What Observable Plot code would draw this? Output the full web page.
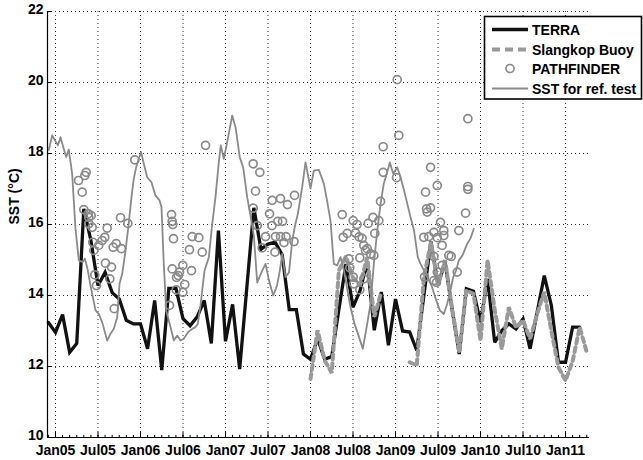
<!DOCTYPE html>
<html><head><meta charset="utf-8">
<script src="https://cdn.jsdelivr.net/npm/d3@7"></script>
<script src="https://cdn.jsdelivr.net/npm/@observablehq/plot@0.6"></script>
<style>
body{margin:0;background:#fff;}
#wrap{position:relative;width:643px;height:460px;font-family:"Liberation Sans",Arial,sans-serif;}
#legend{position:absolute;left:0;top:0;pointer-events:none;}
</style></head><body><div id="wrap"></div>
<script>
const tickValues = [2005, 2005.5, 2006, 2006.5, 2007, 2007.5, 2008, 2008.5, 2009, 2009.5, 2010, 2010.5, 2011];
const tickLabels = ["Jan05","Jul05","Jan06","Jul06","Jan07","Jul07","Jan08","Jul08","Jan09","Jul09","Jan10","Jul10","Jan11"];
const yTicks = [10, 12, 14, 16, 18, 20, 22];
const xDomain = [2004.906, 2011.282];
const yDomain = [10, 22];

const terraMonths = ["2004-12","2005-01","2005-02","2005-03","2005-04","2005-05","2005-06","2005-07","2005-08","2005-09","2005-10","2005-11","2005-12",
"2006-01","2006-02","2006-03","2006-04","2006-05","2006-06","2006-07","2006-08","2006-09","2006-10","2006-11","2006-12",
"2007-01","2007-02","2007-03","2007-04","2007-05","2007-06","2007-07","2007-08","2007-09","2007-10","2007-11","2007-12",
"2008-01","2008-02","2008-03","2008-04","2008-05","2008-06","2008-07","2008-08","2008-09","2008-10","2008-11","2008-12",
"2009-01","2009-02","2009-03","2009-04","2009-05","2009-06","2009-07","2009-08","2009-09","2009-10","2009-11","2009-12",
"2010-01","2010-02","2010-03","2010-04","2010-05","2010-06","2010-07","2010-08","2010-09","2010-10","2010-11","2010-12",
"2011-01","2011-02","2011-03"];
const terraValues = [13.24,12.96,13.46,12.40,12.65,16.44,15.55,14.28,14.65,14.08,13.90,13.30,13.20,
13.20,12.50,13.86,11.90,14.20,14.20,13.35,13.15,13.40,13.86,12.65,15.83,
12.71,13.75,11.93,14.20,16.47,15.30,15.45,15.50,15.15,13.60,13.60,12.35,
12.20,12.78,12.20,12.28,13.60,14.89,13.67,14.14,14.95,13.02,14.10,12.60,
13.90,13.00,12.97,12.45,14.00,15.52,14.30,14.94,13.60,12.35,14.19,14.12,
13.25,14.47,12.68,13.01,13.20,13.06,13.34,12.50,13.53,14.56,13.72,12.12,
12.12,13.11,13.11];

const buoyMonths = ["2008-01","2008-02","2008-03","2008-04","2008-05","2008-06","2008-07","2008-08","2008-09","2008-10","2008-11","2008-12",
"2009-01","2009-02","2009-03","2009-04","2009-05","2009-06","2009-07","2009-08","2009-09","2009-10","2009-11","2009-12",
"2010-01","2010-02","2010-03","2010-04","2010-05","2010-06","2010-07","2010-08","2010-09","2010-10","2010-11","2010-12",
"2011-01","2011-02","2011-03","2011-04"];
const buoyValues = [11.65,13.02,12.17,11.82,14.70,15.10,14.50,14.30,15.08,13.40,14.10,NaN,
NaN,NaN,12.12,12.03,14.50,15.50,14.30,15.00,13.60,12.40,14.14,14.05,
12.73,14.99,13.60,12.50,13.67,13.10,13.30,12.78,13.48,14.10,13.00,11.98,
11.60,12.15,13.11,12.40];

const pathYears = [2005.271,2005.314,2005.345,2005.361,2005.333,2005.385,2005.392,2005.420,2005.392,2005.432,2005.439,2005.451,2005.509,2005.549,2005.580,2005.608,2005.462,2005.482,2005.588,2005.659,2005.639,2005.691,2005.679,2005.714,2005.776,2005.765,2005.851,2005.933,
2006.365,2006.373,2006.380,2006.388,2006.341,2006.608,2006.576,2006.600,2006.498,2006.459,2006.444,2006.521,2006.498,2006.420,2006.373,2006.686,2006.726,2006.765,2006.424,
2007.326,2007.404,2007.353,2007.326,2007.373,2007.432,2007.471,2007.549,2007.647,2007.729,2007.812,2007.518,2007.547,2007.615,2007.671,2007.588,2007.647,2007.712,2007.688,2007.806,2007.582,
2008.373,2008.385,2008.432,2008.502,2008.547,2008.529,2008.571,2008.608,2008.627,2008.667,2008.679,2008.735,2008.756,2008.804,2008.824,2008.855,2008.855,2008.647,2008.706,2008.745,2008.451,2008.580,2008.502,2008.509,2008.580,2008.627,2008.462,
2009.020,2009.039,2009.012,2009.353,2009.412,2009.491,2009.365,2009.373,2009.333,2009.392,2009.529,2009.568,2009.491,2009.549,2009.627,2009.451,2009.549,2009.341,2009.482,2009.745,2009.824,2009.851,2009.726,2009.451,2009.568,2009.655,2009.412,2009.491,2009.451,2009.851,2009.851];
const pathValues = [17.24,16.91,17.38,17.47,16.42,16.30,16.20,16.25,16.02,15.92,15.50,15.27,15.41,15.55,15.64,15.90,14.58,14.28,14.91,14.80,14.47,13.63,15.36,15.46,15.32,16.19,16.03,17.82,
16.28,16.09,16.00,15.60,13.72,15.66,15.29,14.70,14.85,14.66,14.56,14.31,14.09,14.16,14.75,15.63,15.22,18.23,14.51,
17.71,17.47,16.94,16.46,15.97,15.34,15.66,16.68,16.73,16.56,16.82,16.30,15.97,16.09,16.09,15.66,15.66,15.66,15.49,15.52,15.22,
16.28,15.64,15.75,16.11,16.00,15.76,15.65,15.61,15.41,15.32,16.03,16.20,15.75,16.11,16.65,18.19,17.47,15.27,15.17,15.13,15.03,15.06,14.52,14.33,14.16,14.47,14.78,
20.08,18.51,17.32,16.91,17.61,17.10,16.44,16.35,15.64,15.66,16.06,15.83,15.63,15.41,15.13,15.10,14.85,14.52,14.37,15.83,16.32,16.99,14.66,15.78,15.69,15.10,16.47,14.66,14.42,18.98,17.07];

const refYears = [2004.921,2004.961,2005.006,2005.029,2005.059,2005.098,2005.126,2005.156,2005.196,2005.235,
2005.274,2005.321,2005.345,2005.376,2005.412,2005.471,2005.509,2005.549,2005.608,2005.647,
2005.686,2005.726,2005.753,2005.785,2005.824,2005.859,2005.894,2005.921,2005.949,2005.980,
2006.008,2006.039,2006.079,2006.129,2006.176,2006.224,2006.247,2006.274,2006.302,2006.353,
2006.392,2006.432,2006.471,2006.509,2006.561,2006.608,2006.647,2006.674,2006.706,2006.753,
2006.804,2006.844,2006.882,2006.921,2006.945,2006.980,2007.027,2007.079,2007.118,2007.168,
2007.208,2007.255,2007.294,2007.333,2007.373,2007.432,2007.471,2007.512,2007.561,2007.606,
2007.639,2007.667,2007.706,2007.747,2007.785,2007.818,2007.851,2007.902,2007.941,2007.971,
2008.000,2008.039,2008.098,2008.157,2008.194,2008.235,2008.274,2008.314,2008.353,2008.394,
2008.435,2008.471,2008.518,2008.565,2008.615,2008.667,2008.706,2008.745,2008.782,2008.824,
2008.862,2008.902,2008.933,2008.973,2009.020,2009.053,2009.091,2009.129,2009.176,2009.218,
2009.262,2009.294,2009.335,2009.373,2009.424,2009.471,2009.521,2009.568,2009.608,2009.641,
2009.679,2009.712,2009.745,2009.788,2009.844,2009.882,2009.921];
const refValues = [18.10,18.51,18.32,18.23,18.46,18.13,17.90,18.11,17.43,15.89,
14.99,14.94,15.04,14.76,14.28,13.58,13.48,13.25,12.73,12.92,
13.06,13.39,14.33,14.61,15.27,15.97,16.77,17.29,17.61,17.85,
18.04,17.71,17.33,17.19,16.82,16.68,16.49,14.89,13.58,13.11,
12.73,12.87,12.73,12.78,12.97,13.06,13.11,13.20,13.72,14.70,
15.08,16.02,16.77,17.75,18.23,17.85,18.41,19.07,18.74,17.89,
17.61,16.77,16.25,15.69,14.37,14.70,14.89,14.42,14.00,14.28,
14.70,15.17,14.52,14.65,15.55,15.97,16.30,17.05,17.75,17.38,
17.01,17.52,17.54,17.15,16.68,16.11,14.89,14.85,15.08,14.70,
14.14,13.67,13.20,12.87,12.50,13.20,13.77,14.89,15.75,16.58,
17.15,17.47,17.75,17.43,17.61,17.38,17.05,16.68,16.21,15.83,
15.08,14.89,14.70,14.52,14.28,13.92,13.58,13.48,13.77,14.08,
14.52,14.70,14.99,15.13,15.46,15.61,15.88];

const legendLabels = ["TERRA", "Slangkop Buoy", "PATHFINDER", "SST for ref. test"];
const yLabel = "SST (°C)";

const monthToYear = s => +s.slice(0, 4) + (+s.slice(5, 7) - 1) / 12;
const terra = terraMonths.map((m, i) => ({x: monthToYear(m), y: terraValues[i]}));
const buoy = buoyMonths.map((m, i) => ({x: monthToYear(m), y: buoyValues[i]}));
const path = pathYears.map((t, i) => ({x: t, y: pathValues[i]}));
const ref = refYears.map((t, i) => ({x: t, y: refValues[i]}));
// monthly minor tick positions along the bottom axis
const minorTicks = d3.range(2004 * 12 + 11, 2011 * 12 + 4).map(k => k / 12);

const BLACK = "#111", GRAY = "#8a8a8a", DGRAY = "#9a9a9a";
const font = '"Liberation Sans", Arial, sans-serif';

const chart = Plot.plot({
  width: 643, height: 460,
  marginLeft: 47, marginRight: 54, marginTop: 11, marginBottom: 23,
  style: {fontFamily: font, fontSize: "14px", fontWeight: "bold", background: "#fff", color: "#000"},
  x: {domain: xDomain, label: null},
  y: {domain: yDomain, label: null},
  marks: [
    Plot.gridY(yTicks.filter(v => v > 10), {stroke: "#333", strokeOpacity: 1, strokeWidth: 1, strokeDasharray: "1,3"}),
    Plot.gridX(tickValues, {stroke: "#333", strokeOpacity: 1, strokeWidth: 1, strokeDasharray: "1,3"}),
    Plot.line(terra, {x: "x", y: "y", stroke: BLACK, strokeWidth: 3.3, strokeLinejoin: "miter", strokeMiterlimit: 3}),
    Plot.line(buoy, {x: "x", y: "y", stroke: DGRAY, strokeWidth: 4, strokeDasharray: "5,4", strokeLinejoin: "miter"}),
    Plot.dot(path, {x: "x", y: "y", r: 4, stroke: GRAY, strokeWidth: 1.7, fill: "none"}),
    Plot.line(ref, {x: "x", y: "y", stroke: GRAY, strokeWidth: 1.8}),
    Plot.ruleX([xDomain[0]], {stroke: "#000", strokeWidth: 1.2}),
    Plot.ruleY([yDomain[0]], {stroke: "#000", strokeWidth: 1.2}),
    Plot.ruleX(minorTicks, {y1: yDomain[0], y2: yDomain[0] + 0.06, stroke: "#000"}),
    Plot.ruleX(tickValues, {y1: yDomain[0], y2: yDomain[0] + 0.14, stroke: "#000"}),
    Plot.ruleY(yTicks, {x1: xDomain[0], x2: xDomain[0] + 0.06, stroke: "#000"}),
    Plot.axisX(tickValues, {tickSize: 0, tickPadding: 8, tickFormat: d => tickLabels[tickValues.indexOf(d)], fill: "#000"}),
    Plot.axisY(yTicks, {tickSize: 0, tickPadding: 4, dy: -2, fill: "#000"}),
    Plot.text([yLabel], {frameAnchor: "left", rotate: -90, dx: -33, fontSize: 14, fontWeight: "bold", fill: "#000"})
  ]
});

const wrap = document.getElementById("wrap");
wrap.appendChild(chart);

// legend overlay
const lg = d3.select(wrap).append("svg").attr("id", "legend").attr("width", 643).attr("height", 460);
lg.append("rect").attr("x", 484.5).attr("y", 16.5).attr("width", 157).attr("height", 82.5)
  .attr("fill", "#fff").attr("stroke", "#000").attr("stroke-width", 1.6);
const rows = [29.5, 49.5, 68.5, 88.5];
lg.append("line").attr("x1", 492).attr("x2", 528).attr("y1", rows[0]).attr("y2", rows[0]).attr("stroke", BLACK).attr("stroke-width", 3.3);
lg.append("line").attr("x1", 492).attr("x2", 528).attr("y1", rows[1]).attr("y2", rows[1]).attr("stroke", DGRAY).attr("stroke-width", 4).attr("stroke-dasharray", "8,5");
lg.append("circle").attr("cx", 510).attr("cy", rows[2]).attr("r", 4).attr("fill", "none").attr("stroke", GRAY).attr("stroke-width", 1.7);
lg.append("line").attr("x1", 492).attr("x2", 528).attr("y1", rows[3]).attr("y2", rows[3]).attr("stroke", GRAY).attr("stroke-width", 1.8);
legendLabels.forEach((t, i) => {
  lg.append("text").attr("x", 532).attr("y", rows[i] + 5).attr("font-family", font)
    .attr("font-size", 14).attr("font-weight", "bold").attr("fill", "#000").text(t);
});
</script></body></html>
